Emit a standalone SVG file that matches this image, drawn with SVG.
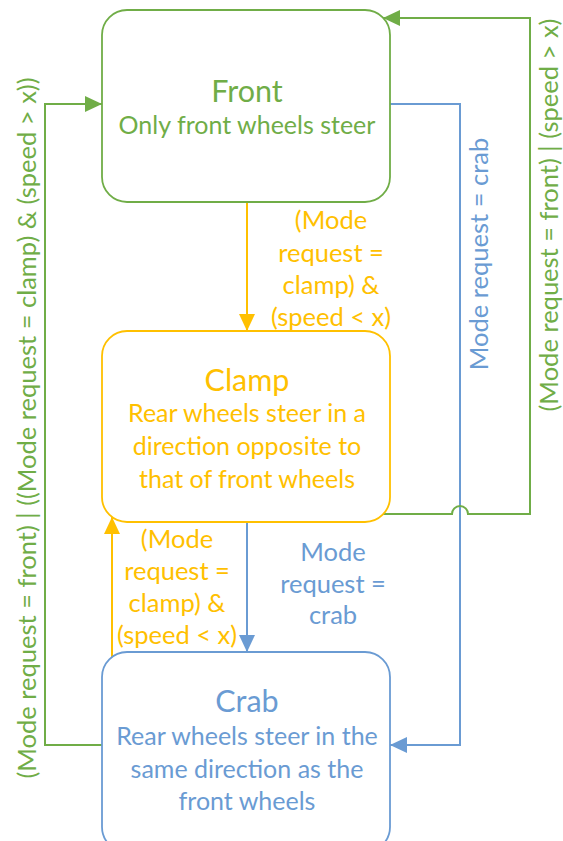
<svg xmlns="http://www.w3.org/2000/svg" width="563" height="841" viewBox="0 0 563 841">
<style>
text{font-family:Lato,"Liberation Sans",sans-serif;text-anchor:middle}
.g{fill:#70AD47}.o{fill:#FFC000}.b{fill:#6A9BD3}
.box{fill:#fff;stroke-width:1.8}
.t{font-size:30.5px}.s{font-size:25px}.l{font-size:25.5px}
.ln{fill:none;stroke-width:2}
</style>
<defs>
<marker id="ag" markerUnits="userSpaceOnUse" markerWidth="18" markerHeight="18" refX="17" refY="8" orient="auto"><path d="M0,0L17,8L0,16z" fill="#70AD47"/></marker>
<marker id="ao" markerUnits="userSpaceOnUse" markerWidth="18" markerHeight="18" refX="17" refY="8" orient="auto"><path d="M0,0L17,8L0,16z" fill="#FFC000"/></marker>
<marker id="ab" markerUnits="userSpaceOnUse" markerWidth="18" markerHeight="18" refX="17" refY="8" orient="auto"><path d="M0,0L17,8L0,16z" fill="#6A9BD3"/></marker>
</defs>
<g id="connectors">
<path class="ln" stroke="#FFC000" d="M247,202V331" marker-end="url(#ao)"/>
<path class="ln" stroke="#6A9BD3" d="M247,522V652" marker-end="url(#ab)"/>
<path class="ln" stroke="#FFC000" d="M112,657V517" marker-end="url(#ao)"/>
<path class="ln" stroke="#70AD47" d="M102,745H45V104H102" marker-end="url(#ag)"/>
<path class="ln" stroke="#6A9BD3" d="M390,104H460V745H390" marker-end="url(#ab)"/>
<path class="ln" stroke="#70AD47" d="M383,514H452a8,8 0 0 1 16,0H530V18H383" marker-end="url(#ag)"/>
<text class="l o"><tspan x="331" y="229">(Mode</tspan><tspan x="331" y="262">request =</tspan><tspan x="331" y="294">clamp) &amp;</tspan><tspan x="331" y="326">(speed &lt; x)</tspan></text>
<text class="l b"><tspan x="333" y="561">Mode</tspan><tspan x="333" y="593">request =</tspan><tspan x="333" y="624">crab</tspan></text>
<text class="l o"><tspan x="177" y="548">(Mode</tspan><tspan x="177" y="580">request =</tspan><tspan x="177" y="612">clamp) &amp;</tspan><tspan x="177" y="644">(speed &lt; x)</tspan></text>
<text class="l g" transform="translate(36,428) rotate(-90)" x="0" y="0">(Mode request = front) | ((Mode request = clamp) &amp; (speed &gt; x))</text>
<text class="l b" transform="translate(488,254) rotate(-90)" x="0" y="0">Mode request = crab</text>
<text class="l g" transform="translate(558,215) rotate(-90)" x="0" y="0">(Mode request = front) | (speed &gt; x)</text>
</g>
<g id="front">
<rect class="box" x="102" y="10" width="288" height="192" rx="25" stroke="#70AD47"/>
<text class="t g" x="247" y="102">Front</text>
<text class="s g" x="247" y="134">Only front wheels steer</text>
</g>
<g id="clamp">
<rect class="box" x="102" y="331" width="288" height="191" rx="25" stroke="#FFC000"/>
<text class="t o" x="247" y="391">Clamp</text>
<text class="s o"><tspan x="247" y="422">Rear wheels steer in a</tspan><tspan x="247" y="455">direction opposite to</tspan><tspan x="247" y="488">that of front wheels</tspan></text>
</g>
<g id="crab">
<rect class="box" x="102" y="652" width="288" height="200" rx="25" stroke="#6A9BD3"/>
<text class="t b" x="247" y="712">Crab</text>
<text class="s b"><tspan x="247" y="745">Rear wheels steer in the</tspan><tspan x="247" y="778">same direction as the</tspan><tspan x="247" y="810">front wheels</tspan></text>
</g>
</svg>
